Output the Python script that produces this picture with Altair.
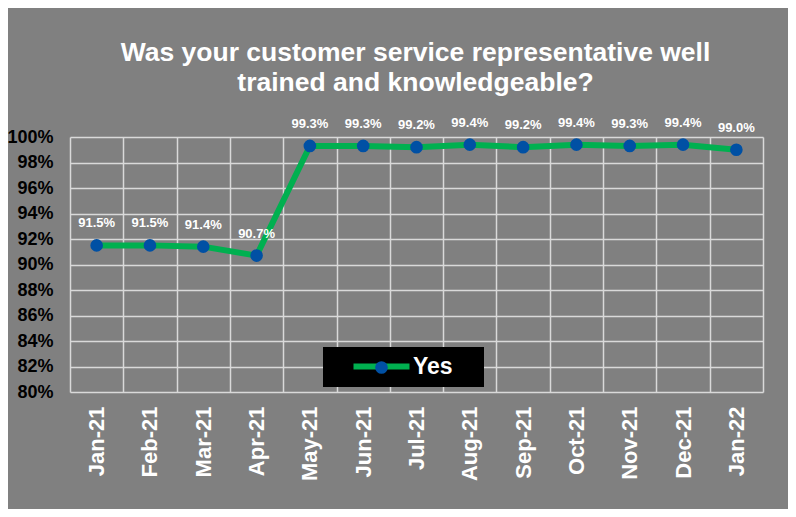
import altair as alt
import pandas as pd

months = ["Jan-21", "Feb-21", "Mar-21", "Apr-21", "May-21", "Jun-21", "Jul-21",
          "Aug-21", "Sep-21", "Oct-21", "Nov-21", "Dec-21", "Jan-22"]
yes_pct = [0.915, 0.915, 0.914, 0.907, 0.993, 0.993, 0.992, 0.994, 0.992, 0.994, 0.993, 0.994, 0.990]
series_name = "Yes"
y_ticks = [0.80, 0.82, 0.84, 0.86, 0.88, 0.90, 0.92, 0.94, 0.96, 0.98, 1.00]

df = pd.DataFrame({"month": months, "value": yes_pct,
                   "series": [series_name] * len(months),
                   "marker": [series_name] * len(months)})

GREEN = "#00B050"
BLUE = "#0050A4"
FONT = "Liberation Sans"

x_enc = alt.X("month:N", sort=months, bandPosition=0.5,
              scale=alt.Scale(type="band", paddingInner=0, paddingOuter=0),
              axis=alt.Axis(title=None, labelAngle=-90, labelFontSize=22, labelColor="white",
                            labelFontWeight="bold", labelFont=FONT, labelPadding=14,
                            ticks=False, domain=False, grid=True, tickBand="extent",
                            gridColor="#d9d9d9", gridWidth=1.5))
y_enc = alt.Y("value:Q",
              scale=alt.Scale(domain=[0.8, 1.0], nice=False, zero=False),
              axis=alt.Axis(title=None, values=y_ticks, format=".0%", labelFontSize=18,
                            labelFontWeight="bold", labelColor="black", labelFont=FONT,
                            labelPadding=17, ticks=False, domain=False, grid=True,
                            gridColor="#d9d9d9", gridWidth=1.5))

base = alt.Chart(df)

line = base.mark_line(strokeWidth=6).encode(
    x=x_enc, y=y_enc,
    color=alt.Color("series:N", scale=alt.Scale(range=[GREEN]),
                    legend=alt.Legend(orient="none", legendX=253, legendY=210,
                                      title=".", titleOrient="right", titlePadding=16,
                                      titleColor="black", titleFontSize=23,
                                      symbolType="M-4,0H4", symbolSize=196, symbolStrokeWidth=6,
                                      symbolOffset=39, labelOffset=20, padding=8,
                                      fillColor="black", labelColor="white", labelFontSize=23,
                                      labelFontWeight="bold", labelFont=FONT))
)

points = base.mark_point(filled=True, size=160, opacity=1, color=BLUE).encode(
    x=x_enc, y=y_enc,
    shape=alt.Shape("marker:N", scale=alt.Scale(range=["circle"]),
                    legend=alt.Legend(orient="none", legendX=305, legendY=224, title=None,
                                      symbolSize=160, symbolFillColor=BLUE, symbolStrokeWidth=0,
                                      padding=0, labelOpacity=0, labelFontSize=1))
)

labels = base.mark_text(dy=-22, fontSize=13, fontWeight="bold", color="white", font=FONT).encode(
    x=x_enc, y=y_enc,
    text=alt.Text("value:Q", format=".1%")
)

chart = alt.layer(line, points, labels).properties(
    width=693, height=255,
    background="#808080",
    padding={"left": 62, "top": 129, "right": 25, "bottom": 117},
    autosize=alt.AutoSizeParams(type="none"),
    title=alt.TitleParams(["Was your customer service representative well",
                           "trained and knowledgeable?"],
                          color="white", fontSize=26.5, font=FONT, fontWeight="bold",
                          lineHeight=30, anchor="middle", offset=20, dx=-1)
).configure_view(stroke=None)

chart.save("out.html", embed_options={"renderer": "svg", "actions": False})
